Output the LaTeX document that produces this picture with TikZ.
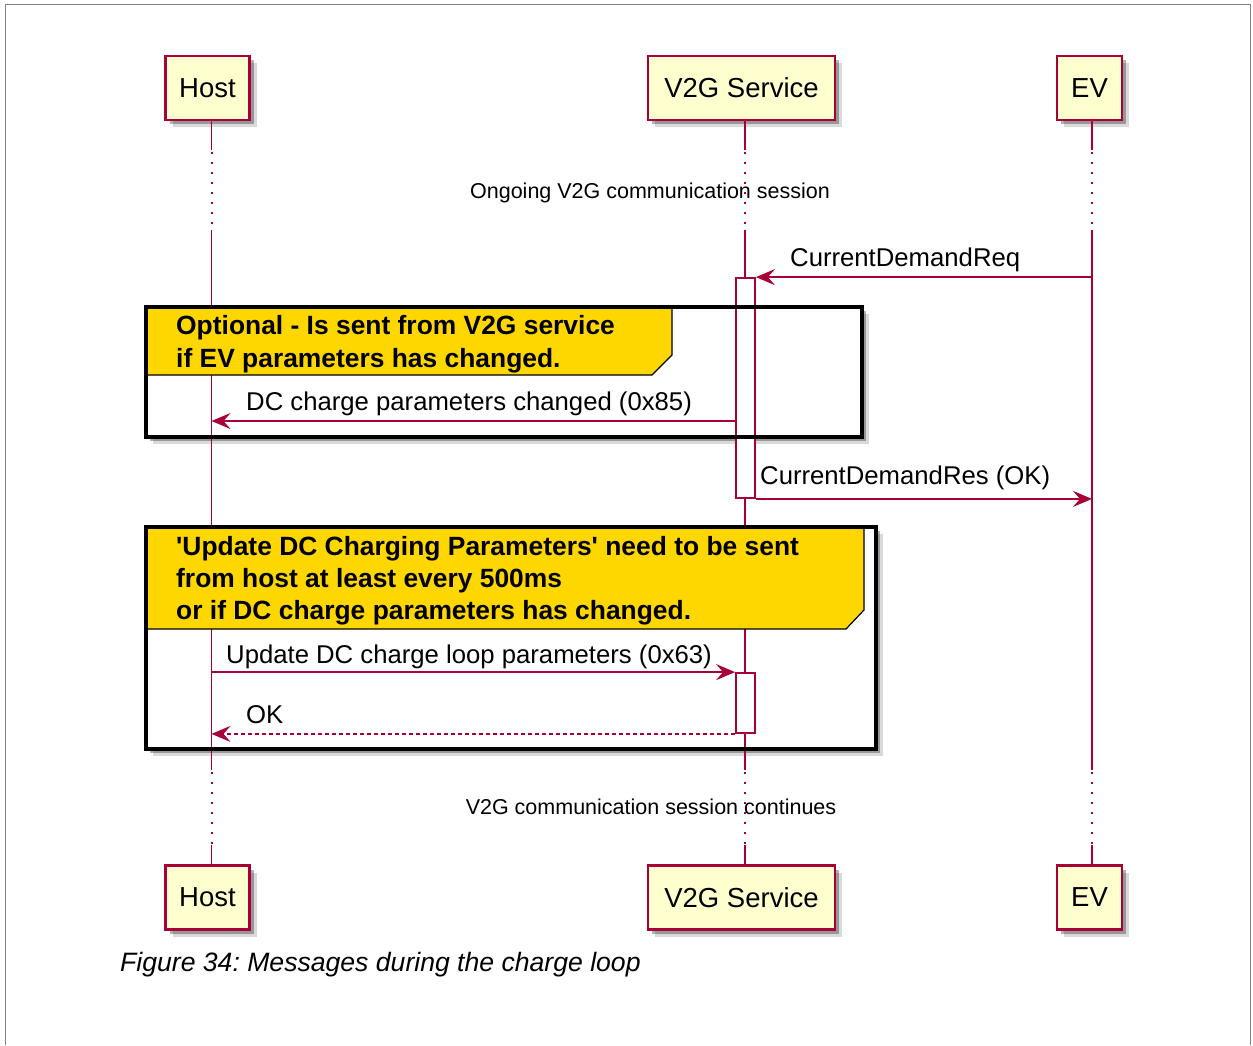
\documentclass[tikz,border=0pt]{standalone}
\usepackage{fontspec}
\setmainfont{Liberation Sans}[Ligatures=TeXOff]
\usetikzlibrary{arrows.meta,shadows}
\definecolor{plred}{HTML}{A80036}
\definecolor{plyel}{HTML}{FEFECE}
\definecolor{plgold}{HTML}{FFD700}
\tikzset{
  softshadow/.style={
    drop shadow={shadow xshift=4pt,shadow yshift=-4pt,opacity=0.3,fill=black},
    drop shadow={shadow xshift=7pt,shadow yshift=-7pt,opacity=0.15,fill=black}},
  part/.style={draw=plred, line width=2.6pt, fill=plyel, inner sep=0pt,
    minimum height=64pt, font=\fontsize{27.5}{33}\selectfont, softshadow},
  life/.style={draw=plred, line width=1.5pt},
  lifedot/.style={draw=plred, line width=2pt, dash pattern=on 2pt off 8pt},
  act/.style={draw=plred, line width=1.8pt, fill=white, inner sep=0pt,
    minimum width=19pt},
  grp/.style={fill=white, inner sep=0pt, softshadow},
  grpborder/.style={draw=black, line width=3.5pt},
  hdr/.style={fill=plgold, draw=black, line width=1.2pt},
  hdrtext/.style={anchor=west, inner sep=0pt, font=\bfseries\fontsize{26.4}{30}\selectfont},
  msg/.style={draw=plred, line width=1.8pt, -{Stealth[length=19pt,width=16pt,inset=7pt]}},
  ret/.style={msg, dash pattern=on 4pt off 3pt},
  lbl/.style={anchor=west, inner sep=0pt, font=\fontsize{25.7}{30}\selectfont},
  divtext/.style={inner sep=0pt, font=\fontsize{21.5}{26}\selectfont},
}
\begin{document}
\frenchspacing
\begin{tikzpicture}[x=1pt,y=-1pt]
\useasboundingbox (0,0) rectangle (1253,1045);
\fill[white] (0,0) rectangle (1253,1045);
% outer frame
\draw[gray, line width=1.5pt] (5.5,1045) -- (5.5,4.5) -- (1250.5,4.5) -- (1250.5,1045);

% group backgrounds
\node[grp, minimum width=716pt, minimum height=130pt] (g1) at (504,372) {};
\node[grp, minimum width=730pt, minimum height=222pt] (g2) at (511,638) {};

% lifeline x positions
\coordinate (hostL) at (211.5,0);
\coordinate (v2gL) at (745,0);
\coordinate (evL) at (1092,0);

% participants
\node[part, minimum width=84pt] (hostT) at (207.5,88) {Host};
\node[part, minimum width=187pt] (v2gT) at (741.5,88) {V2G Service};
\node[part, minimum width=65pt] (evT) at (1089.5,88) {EV};
\node[part, minimum width=84pt] (hostB) at (207.5,897.5) {Host};
\node[part, minimum width=187pt] (v2gB) at (741.5,897.5) {V2G Service};
\node[part, minimum width=65pt] (evB) at (1089.5,897.5) {EV};

% lifelines
\foreach \p in {host,v2g,ev}{
  \draw[life] (\p L |- \p T.south) -- (\p L |- 0,150);
  \draw[lifedot] (\p L |- 0,152) -- (\p L |- 0,230);
  \draw[life] (\p L |- 0,230) -- (\p L |- 0,770);
  \draw[lifedot] (\p L |- 0,772) -- (\p L |- 0,845);
  \draw[life] (\p L |- 0,845) -- (\p L |- \p B.north);
}

% group headers
\draw[hdr] (g1.north west) -- (672,307) -- (672,355) -- (652,375) -- (g1.west |- 0,375) -- cycle;
\draw[hdr] (g2.north west) -- (864,527) -- (864,610) -- (846,629) -- (g2.west |- 0,629) -- cycle;
\node[hdrtext] (h1a) at (176,328) {Optional - Is sent from V2G service};
\node[hdrtext] (h1b) at (176,361) {if EV parameters has changed.};
\node[hdrtext] (h2a) at (176,549) {'Update DC Charging Parameters' need to be sent};
\node[hdrtext] (h2b) at (176,581) {from host at least every 500ms};
\node[hdrtext] (h2c) at (176,613) {or if DC charge parameters has changed.};

% activations
\node[act, minimum height=220pt] (act1) at (745.5,388) {};
\node[act, minimum height=60pt] (act2) at (745.5,703) {};

% group borders
\draw[grpborder] (g1.north west) rectangle (g1.south east);
\draw[grpborder] (g2.north west) rectangle (g2.south east);

% messages
\draw[msg] (evL |- act1.north) -- (act1.north east);
\node[lbl] (m1) at (790,260) {CurrentDemandReq};
\draw[msg] (act1.west |- 0,421) -- (hostL |- 0,421);
\node[lbl] (m2) at (246,404) {DC charge parameters changed (0x85)};
\draw[msg] (act1.south east) -- (evL |- act1.south);
\node[lbl] (m3) at (760,478) {CurrentDemandRes (OK)};
\draw[msg] (hostL |- act2.north) -- (act2.north west);
\node[lbl] (m4) at (226,657) {Update DC charge loop parameters (0x63)};
\draw[ret] (act2.south west) -- (hostL |- act2.south);
\node[lbl] (m5) at (246,715) {OK};

% dividers
\node[divtext] (d1) at (650,193) {Ongoing V2G communication session};
\node[divtext] (d2) at (651,807) {V2G communication session continues};

% caption
\node[anchor=west, inner sep=0pt, font=\itshape\fontsize{26.6}{30}\selectfont] (cap) at (120,965) {Figure 34: Messages during the charge loop};
\end{tikzpicture}
\end{document}
